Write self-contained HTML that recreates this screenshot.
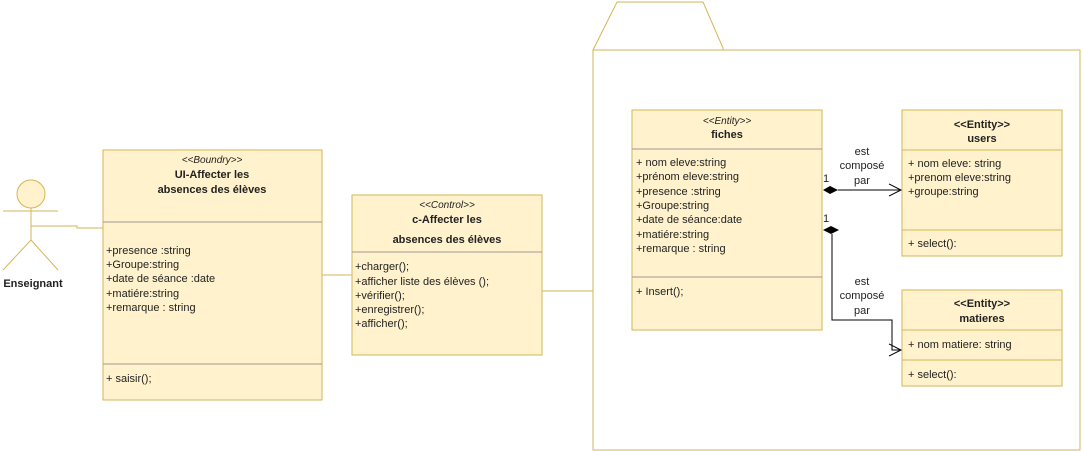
<!DOCTYPE html>
<html><head><meta charset="utf-8"><style>
html,body{margin:0;padding:0;background:#fff;}
svg{display:block;}
text{font-family:"Liberation Sans",Arial,sans-serif;font-size:11px;fill:#222;}
.b{font-weight:bold;font-size:12px;}
.i{font-style:italic;font-size:10px;}
.c{text-anchor:middle;}
</style></head><body>
<svg width="1083" height="451" viewBox="0 0 1083 451">
<g fill="#fff2cc" stroke="#d6b656" stroke-width="1">
<!-- actor -->
<circle cx="31" cy="194" r="14"/>
<line x1="31" y1="208" x2="31" y2="240" fill="none"/>
<line x1="3" y1="211" x2="58" y2="211"/>
<line x1="31" y1="240" x2="3" y2="270"/>
<line x1="31" y1="240" x2="58" y2="270"/>
<polyline points="31,226 77,226 77,228 103,228" fill="none"/>
<!-- UI box -->
<rect x="103" y="150" width="219" height="250"/>
<line x1="103" y1="222" x2="322" y2="222" stroke="#999"/>
<line x1="103" y1="364" x2="322" y2="364" stroke="#999"/>
<line x1="322" y1="275" x2="352" y2="275"/>
<!-- control -->
<rect x="352" y="195" width="190" height="160"/>
<line x1="352" y1="252" x2="542" y2="252" stroke="#999"/>
<line x1="542" y1="291" x2="593" y2="291"/>
<!-- package -->
<polygon points="593,50 617,2 703,2 723,48 723,50" fill="none"/>
<rect x="593" y="50" width="487" height="400" fill="none"/>
<!-- fiches -->
<rect x="632" y="110" width="190" height="220"/>
<line x1="632" y1="149" x2="822" y2="149" stroke="#999"/>
<line x1="632" y1="277" x2="822" y2="277" stroke="#999"/>
<!-- users -->
<rect x="902" y="110" width="160" height="146"/>
<line x1="902" y1="150" x2="1062" y2="150"/>
<line x1="902" y1="230" x2="1062" y2="230"/>
<!-- matieres -->
<rect x="902" y="290" width="160" height="96"/>
<line x1="902" y1="330" x2="1062" y2="330"/>
<line x1="902" y1="360" x2="1062" y2="360"/>
</g>
<!-- connectors -->
<g stroke="#000" fill="none" stroke-width="1">
<line x1="838" y1="190" x2="901" y2="190"/>
<polyline points="889,184 901,190 889,196"/>
<polyline points="832,234 832,320 892,320 892,350 901,350"/>
<polyline points="889,344 901,350 889,356"/>
</g>
<polygon points="823,190 830,186 838,190 830,194" fill="#000"/>
<polygon points="823,230 831,226 839,230 831,234" fill="#000"/>
<!-- texts -->
<text x="33" y="287" class="c" style="font-weight:bold">Enseignant</text>
<text x="212" y="163" class="c i">&lt;&lt;Boundry&gt;&gt;</text>
<text x="212" y="178" class="c" style="font-weight:bold">UI-Affecter les</text>
<text x="212" y="193" class="c" style="font-weight:bold">absences des élèves</text>
<text x="106" y="254">+presence :string</text>
<text x="106" y="268">+Groupe:string</text>
<text x="106" y="282">+date de séance :date</text>
<text x="106" y="297">+matiére:string</text>
<text x="106" y="311">+remarque : string</text>
<text x="106" y="382">+ saisir();</text>
<text x="447" y="208" class="c i">&lt;&lt;Control&gt;&gt;</text>
<text x="447" y="223" class="c" style="font-weight:bold">c-Affecter les</text>
<text x="447" y="243" class="c" style="font-weight:bold">absences des élèves</text>
<text x="355" y="270">+charger();</text>
<text x="355" y="285">+afficher liste des élèves ();</text>
<text x="355" y="299">+vérifier();</text>
<text x="355" y="313">+enregistrer();</text>
<text x="355" y="327">+afficher();</text>
<text x="727" y="124" class="c i">&lt;&lt;Entity&gt;&gt;</text>
<text x="727" y="138" class="c" style="font-weight:bold">fiches</text>
<text x="636" y="166">+ nom eleve:string</text>
<text x="636" y="180">+prénom eleve:string</text>
<text x="636" y="195">+presence :string</text>
<text x="636" y="209">+Groupe:string</text>
<text x="636" y="223">+date de séance:date</text>
<text x="636" y="238">+matiére:string</text>
<text x="636" y="252">+remarque : string</text>
<text x="636" y="295">+ Insert();</text>
<text x="982" y="128" class="c" style="font-weight:bold">&lt;&lt;Entity&gt;&gt;</text>
<text x="982" y="142" class="c" style="font-weight:bold">users</text>
<text x="908" y="167">+ nom eleve: string</text>
<text x="908" y="181">+prenom eleve:string</text>
<text x="908" y="195">+groupe:string</text>
<text x="908" y="247">+ select():</text>
<text x="982" y="307" class="c" style="font-weight:bold">&lt;&lt;Entity&gt;&gt;</text>
<text x="982" y="322" class="c" style="font-weight:bold">matieres</text>
<text x="908" y="348">+ nom matiere: string</text>
<text x="908" y="378">+ select():</text>
<text x="862" y="155" class="c">est</text>
<text x="862" y="169" class="c">composé</text>
<text x="862" y="184" class="c">par</text>
<text x="823" y="182">1</text>
<text x="862" y="285" class="c">est</text>
<text x="862" y="299" class="c">composé</text>
<text x="862" y="314" class="c">par</text>
<text x="823" y="222">1</text>
</svg>
</body></html>
